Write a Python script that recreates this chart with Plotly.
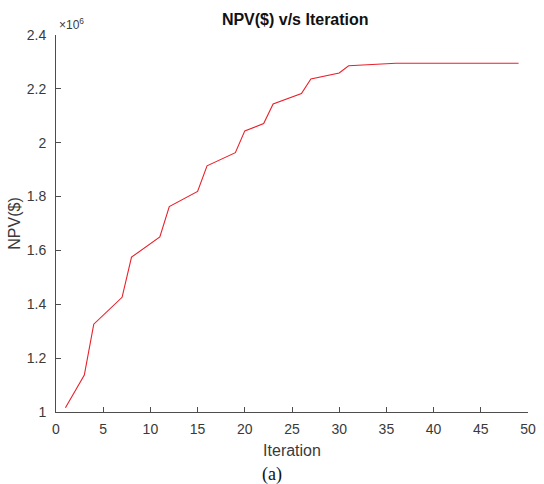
import plotly.graph_objects as go

iterations = list(range(1, 50))
npv_millions = [
    1.016, 1.077, 1.137, 1.326, 1.359, 1.392, 1.426, 1.575, 1.600, 1.626,
    1.650, 1.763, 1.782, 1.800, 1.819, 1.914, 1.930, 1.946, 1.963, 2.044,
    2.058, 2.071, 2.144, 2.157, 2.170, 2.183, 2.237, 2.244, 2.251, 2.259,
    2.286, 2.288, 2.290, 2.292, 2.295, 2.295, 2.295, 2.295, 2.295, 2.295,
    2.295, 2.295, 2.295, 2.295, 2.295, 2.295, 2.295, 2.295, 2.295,
]
x_ticks = list(range(0, 51, 5))
y_ticks = [1, 1.2, 1.4, 1.6, 1.8, 2, 2.2, 2.4]
y_tick_labels = ["1", "1.2", "1.4", "1.6", "1.8", "2", "2.2", "2.4"]

axis_color = "#4d4d4d"
text_color = "#3a3a3a"
font_family = "Liberation Sans, Arial, sans-serif"

fig = go.Figure()
fig.add_trace(go.Scatter(
    x=iterations, y=npv_millions, mode="lines",
    line=dict(color="#e8202a", width=1.1),
    showlegend=False, hoverinfo="skip",
))

fig.update_layout(
    width=544, height=484,
    margin=dict(l=56, r=8, t=35, b=72),
    paper_bgcolor="white", plot_bgcolor="white",
    font=dict(family=font_family, size=14, color=text_color),
    title=dict(text="<b>NPV($) v/s Iteration</b>", x=0.5427, xanchor="center",
               y=1 - 19 / 484, yanchor="middle",
               font=dict(size=16, color="#111111", family=font_family)),
    xaxis=dict(
        range=[0, 50], tickmode="array", tickvals=x_ticks,
        ticks="inside", ticklen=5, tickcolor=axis_color, tickwidth=1,
        showline=True, linecolor=axis_color, linewidth=1, mirror=False,
        showgrid=False, zeroline=False, ticklabelstandoff=4,
        tickfont=dict(size=14, color=text_color),
        title=dict(text="Iteration", font=dict(size=16, color=text_color), standoff=9),
    ),
    yaxis=dict(
        range=[1, 2.4], tickmode="array", tickvals=y_ticks, ticktext=y_tick_labels,
        ticks="inside", ticklen=5, tickcolor=axis_color, tickwidth=1,
        showline=True, linecolor=axis_color, linewidth=1, mirror=False,
        showgrid=False, zeroline=False, ticklabelstandoff=6,
        tickfont=dict(size=14, color=text_color),
        title=dict(text="NPV($)", font=dict(size=16, color=text_color), standoff=2),
    ),
)

fig.add_annotation(
    text="×10<sup>6</sup>", xref="paper", yref="paper", x=0, y=1,
    xanchor="left", yanchor="middle", yshift=11, xshift=1, showarrow=False,
    font=dict(size=12, color=text_color, family=font_family),
)
fig.add_annotation(
    text="(a)", xref="paper", yref="paper", x=0.5, y=0,
    xanchor="center", yanchor="middle", yshift=-62, xshift=-20, showarrow=False,
    font=dict(size=18, color="#111111", family="Liberation Serif, Times New Roman, serif"),
)

fig.write_html("out.html")
